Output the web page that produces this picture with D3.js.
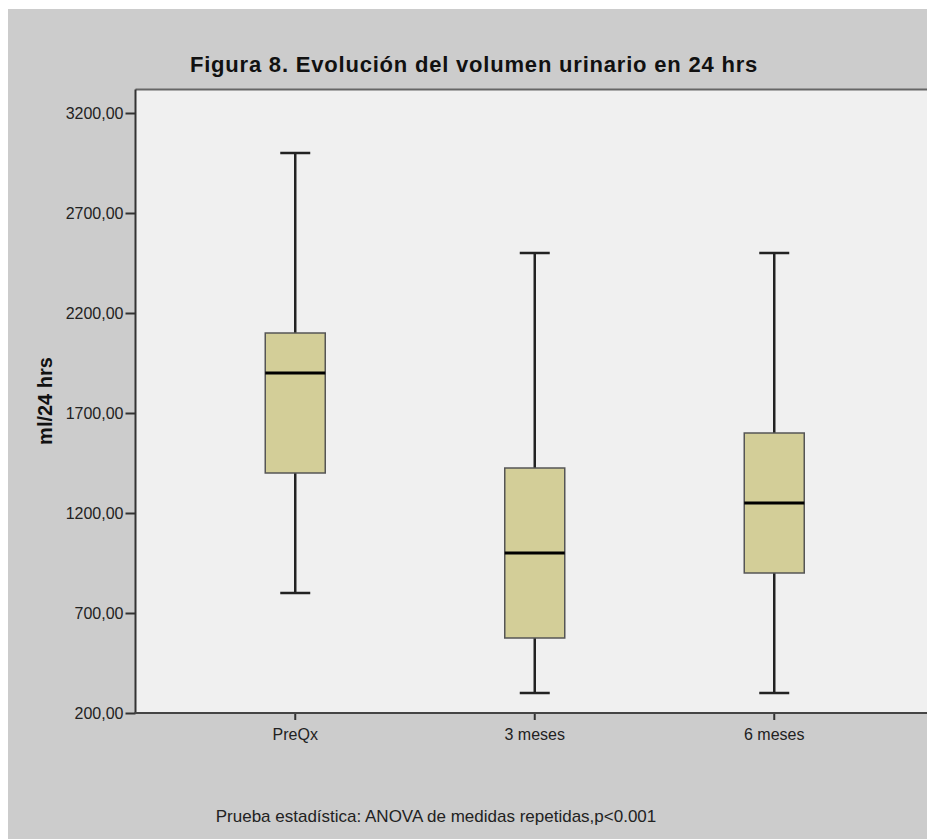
<!DOCTYPE html>
<html><head><meta charset="utf-8">
<script src="https://cdn.jsdelivr.net/npm/d3@7"></script>
<style>
html,body{margin:0;padding:0;background:#fff;overflow:hidden;}
svg{display:block;}
text{font-family:"Liberation Sans",Arial,sans-serif;}
</style></head>
<body>
<svg id="chart" width="927" height="839"></svg>
<script>
const categories = ["PreQx", "3 meses", "6 meses"];
const whiskerLow = [800, 300, 300];
const q1 = [1400, 575, 900];
const median = [1900, 1000, 1250];
const q3 = [2100, 1425, 1600];
const whiskerHigh = [3000, 2500, 2500];
const yTicks = [200, 700, 1200, 1700, 2200, 2700, 3200];
const title = "Figura 8. Evolución del volumen urinario en 24 hrs";
const yLabel = "ml/24 hrs";
const footer = "Prueba estadística: ANOVA de medidas repetidas,p<0.001";

const svg = d3.select("#chart");
const W = 927, H = 839;
const plot = {left: 135.5, top: 89.5, bottom: 713};

svg.append("rect").attr("x", 8).attr("y", 9).attr("width", W - 8).attr("height", H - 9).attr("fill", "#cccccc");
svg.append("rect").attr("x", plot.left).attr("y", plot.top)
  .attr("width", W + 20 - plot.left).attr("height", plot.bottom - plot.top)
  .attr("fill", "#f0f0f0");
svg.append("line").attr("x1", plot.left).attr("x2", W + 20).attr("y1", plot.top).attr("y2", plot.top)
  .attr("stroke", "#666").attr("stroke-width", 2);

const y = d3.scaleLinear().domain([200, 3200]).range([713, 113]);
const x = d3.scaleBand().domain(categories).range([175.5, 894]);

const fmt = v => d3.format(".2f")(v).replace(".", ",");

const yAxis = svg.append("g").attr("transform", `translate(${plot.left},0)`)
  .call(d3.axisLeft(y).tickValues(yTicks).tickFormat(fmt).tickSize(10).tickSizeOuter(0));
yAxis.select(".domain").remove();
yAxis.selectAll(".tick line").attr("stroke", "#333").attr("stroke-width", 2);
yAxis.selectAll(".tick text").attr("font-size", 16).attr("fill", "#222").attr("x", -12)
  .attr("font-family", "'Liberation Sans',Arial,sans-serif");
svg.append("line").attr("x1", plot.left).attr("x2", plot.left).attr("y1", plot.top).attr("y2", plot.bottom + 1)
  .attr("stroke", "#333").attr("stroke-width", 2);

const xAxis = svg.append("g").attr("transform", `translate(0,${plot.bottom})`)
  .call(d3.axisBottom(x).tickSize(7).tickSizeOuter(0).tickPadding(9));
xAxis.select(".domain").remove();
xAxis.selectAll(".tick line").attr("stroke", "#333").attr("stroke-width", 2);
xAxis.selectAll(".tick text").attr("font-size", 16).attr("fill", "#222")
  .attr("font-family", "'Liberation Sans',Arial,sans-serif");
svg.append("line").attr("x1", plot.left - 1).attr("x2", W + 20).attr("y1", plot.bottom).attr("y2", plot.bottom)
  .attr("stroke", "#444").attr("stroke-width", 2);

const data = categories.map((c, i) => ({c, lo: whiskerLow[i], q1: q1[i], med: median[i], q3: q3[i], hi: whiskerHigh[i]}));
const boxW = 60, capW = 30;
const g = svg.append("g");
const cx = d => x(d.c) + x.bandwidth() / 2;

g.selectAll(".whisker").data(data).join("line")
  .attr("x1", cx).attr("x2", cx).attr("y1", d => y(d.hi)).attr("y2", d => y(d.lo))
  .attr("stroke", "#222").attr("stroke-width", 2.5);
g.selectAll(".capHi").data(data).join("line")
  .attr("x1", d => cx(d) - capW / 2).attr("x2", d => cx(d) + capW / 2)
  .attr("y1", d => y(d.hi)).attr("y2", d => y(d.hi)).attr("stroke", "#222").attr("stroke-width", 2.5);
g.selectAll(".capLo").data(data).join("line")
  .attr("x1", d => cx(d) - capW / 2).attr("x2", d => cx(d) + capW / 2)
  .attr("y1", d => y(d.lo)).attr("y2", d => y(d.lo)).attr("stroke", "#222").attr("stroke-width", 2.5);
g.selectAll(".box").data(data).join("rect")
  .attr("x", d => cx(d) - boxW / 2).attr("width", boxW)
  .attr("y", d => y(d.q3)).attr("height", d => y(d.q1) - y(d.q3))
  .attr("fill", "#d3ce98").attr("stroke", "#555").attr("stroke-width", 1.5);
g.selectAll(".med").data(data).join("line")
  .attr("x1", d => cx(d) - boxW / 2).attr("x2", d => cx(d) + boxW / 2)
  .attr("y1", d => y(d.med)).attr("y2", d => y(d.med)).attr("stroke", "#000").attr("stroke-width", 3);

svg.append("text").attr("x", 474).attr("y", 72).attr("text-anchor", "middle")
  .attr("font-size", 22).attr("letter-spacing", 0.8).attr("font-weight", "bold").attr("fill", "#111").text(title);
svg.append("text").attr("transform", "translate(52,401) rotate(-90)").attr("text-anchor", "middle")
  .attr("font-size", 20).attr("font-weight", "bold").attr("fill", "#111").text(yLabel);
svg.append("text").attr("x", 436).attr("y", 822).attr("text-anchor", "middle")
  .attr("font-size", 17).attr("fill", "#222").text(footer);
</script>
</body></html>
